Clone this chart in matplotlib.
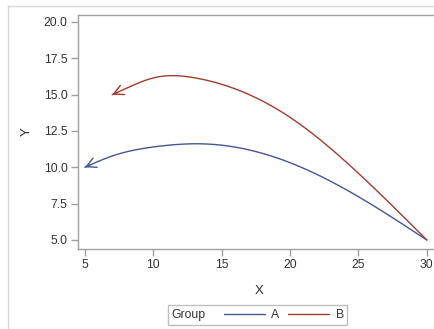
import numpy as np
import matplotlib
matplotlib.use("Agg")
import matplotlib.pyplot as plt
from matplotlib.lines import Line2D
from matplotlib.offsetbox import HPacker

# ---- data ----
a_x = [5, 7, 10, 14, 20, 25, 30]
a_y = [10.0, 10.78, 11.4, 11.6, 10.32, 7.98, 5.0]
b_x = [7, 8.3, 10, 13.2, 20, 25, 30]
b_y = [15.0, 15.55, 16.15, 16.13, 13.44, 9.59, 5.0]
groups = ["A", "B"]
x_ticks = [5, 10, 15, 20, 25, 30]
y_ticks = [5.0, 7.5, 10.0, 12.5, 15.0, 17.5, 20.0]

COL_A = "#445694"
COL_B = "#A23A2E"
AXC = "#A0A0A0"
TXT = "#333333"


def smooth(xs, ys, n=200):
    """Natural cubic spline through the points (like SAS smoothconnect)."""
    x = np.asarray(xs, float)
    y = np.asarray(ys, float)
    k = len(x)
    h = np.diff(x)
    A = np.zeros((k, k))
    r = np.zeros(k)
    A[0, 0] = A[-1, -1] = 1
    for i in range(1, k - 1):
        A[i, i - 1] = h[i - 1]
        A[i, i] = 2 * (h[i - 1] + h[i])
        A[i, i + 1] = h[i]
        r[i] = 3 * ((y[i + 1] - y[i]) / h[i] - (y[i] - y[i - 1]) / h[i - 1])
    c = np.linalg.solve(A, r)
    xx = np.linspace(x[0], x[-1], n)
    yy = np.empty_like(xx)
    for j, t in enumerate(xx):
        i = min(np.searchsorted(x, t, side="right") - 1, k - 2)
        d = t - x[i]
        b = (y[i + 1] - y[i]) / h[i] - h[i] * (2 * c[i] + c[i + 1]) / 3
        dd = (c[i + 1] - c[i]) / (3 * h[i])
        yy[j] = y[i] + b * d + c[i] * d ** 2 + dd * d ** 3
    return xx, yy


plt.rcParams["font.family"] = ["Liberation Sans", "DejaVu Sans"]

W, H = 434, 329
fig = plt.figure(figsize=(W / 100, H / 100), dpi=100)

# outer light border (top and left visible)
fig.add_artist(Line2D([8 / W, 1.2], [1 - 6 / H, 1 - 6 / H], transform=fig.transFigure,
                      color="#D8D8D8", lw=1.0))
fig.add_artist(Line2D([8 / W, 8 / W], [-0.2, 1 - 6 / H], transform=fig.transFigure,
                      color="#D8D8D8", lw=1.0))

ax = fig.add_axes([78 / W, 80 / H, 362.5 / W, 234 / H])
ax.set_xlim(4.5, 31)
ax.set_ylim(4.38, 20.48)

handles = []
for xs, ys, col, name in [(a_x, a_y, COL_A, groups[0]), (b_x, b_y, COL_B, groups[1])]:
    xx, yy = smooth(xs, ys)
    ln, = ax.plot(xx, yy, color=col, lw=1.0, label=name, solid_capstyle="round")
    handles.append(ln)
    # arrow head at the start of the series (lowest x)
    ax.annotate("", xy=(xx[0], yy[0]), xytext=(xx[3], yy[3]),
                arrowprops=dict(arrowstyle="->,head_length=0.7,head_width=0.36",
                                color=col, lw=1.0, shrinkA=0, shrinkB=0,
                                mutation_scale=10))

for s in ["left", "bottom", "top", "right"]:
    ax.spines[s].set_color(AXC)
    ax.spines[s].set_linewidth(1.0)

ax.set_xticks(x_ticks)
ax.set_xticklabels([str(v) for v in x_ticks])
ax.set_yticks(y_ticks)
ax.set_yticklabels([f"{v:.1f}" for v in y_ticks])
ax.tick_params(axis="both", direction="out", length=5, width=1.0, color=AXC,
               labelsize=8.8, labelcolor=TXT, pad=2.5)
ax.set_xlabel("X", fontsize=9.5, color=TXT, labelpad=10)
ax.set_ylabel("Y", fontsize=9.5, color=TXT, labelpad=8)

leg = fig.legend(handles=handles, labels=groups, title="Group", loc="center",
                 bbox_to_anchor=(257.5 / W, 1 - 315 / H), ncol=2, fontsize=8.8,
                 title_fontsize=8.8, frameon=True, fancybox=False, handlelength=3.4,
                 handletextpad=0.5, columnspacing=0.7, borderpad=0.3)
leg.get_frame().set_edgecolor("#B0B0B0")
leg.get_frame().set_linewidth(1.0)
for t in leg.get_texts():
    t.set_color(TXT)
leg.get_title().set_color(TXT)
# put the title to the left of the entries
try:
    old = leg._legend_box
    newbox = HPacker(pad=old.pad, sep=13, align="center",
                     children=[leg._legend_title_box, leg._legend_handle_box])
    newbox.set_figure(fig)
    newbox.set_offset(leg._findoffset)
    leg._legend_box = newbox
except Exception:
    pass

fig.savefig("out.png", dpi=100)
